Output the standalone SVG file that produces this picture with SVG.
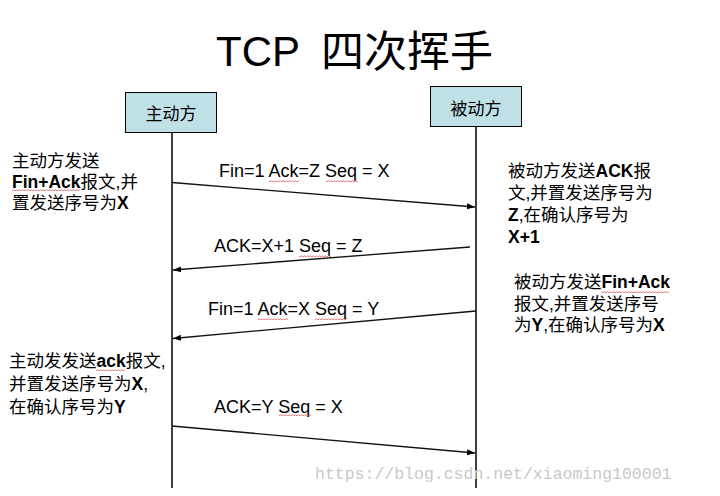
<svg xmlns="http://www.w3.org/2000/svg" width="720" height="496" viewBox="0 0 720 496">
  <defs>
    <style>
      .sans { font-family: 'Liberation Sans', 'Noto Sans CJK SC', sans-serif; fill: #000; }
      .lbl { font-size: 18px; }
      .note { font-size: 17.5px; }
      .b { font-weight: bold; }
      .box { fill: #bfe1e6; stroke: #000; stroke-width: 1; }
      .life { stroke: #000; stroke-width: 1.5; fill: none; }
      .msg { stroke: #111; stroke-width: 1.3; fill: none; marker-end: url(#arr); }
      .sq { fill: url(#sqp); }
    </style>
    <marker id="arr" markerUnits="userSpaceOnUse" markerWidth="9" markerHeight="7" refX="8" refY="3" orient="auto">
      <path d="M0,0 L8,3 L0,6 z" fill="#000"/>
    </marker>
    <pattern id="sqp" patternUnits="userSpaceOnUse" width="3" height="3">
      <path d="M0,2.2 L1.5,0.6 L3,2.2" stroke="#d85050" stroke-width="0.8" fill="none"/>
    </pattern>
  </defs>
  <rect width="720" height="496" fill="#fff"/>

  <g id="title">
    <text x="216" y="66" class="sans" font-size="42">TCP</text>
    <text x="321" y="67" class="sans" font-size="43">四次挥手</text>
  </g>

  <g id="active">
    <rect class="box" x="125.5" y="92.5" width="91" height="40"/>
    <text x="171" y="119.5" class="sans" font-size="17" text-anchor="middle">主动方</text>
  </g>
  <g id="passive">
    <rect class="box" x="430.5" y="86.5" width="91" height="40"/>
    <text x="476" y="114.5" class="sans" font-size="17" text-anchor="middle">被动方</text>
  </g>

  <g id="connectors">
    <line class="life" x1="172" y1="132.5" x2="172" y2="488"/>
    <line class="life" x1="476" y1="126.5" x2="476" y2="488"/>
    <path class="msg" d="M172,182.5 L475,207"/>
    <path class="msg" d="M470,247 L173,270"/>
    <path class="msg" d="M476,311 L173,338.5"/>
    <path class="msg" d="M172,426 L475,453"/>
  </g>

  <g id="msg-labels" class="sans lbl">
    <text x="219" y="177">Fin=1 Ack=Z Seq = X</text>
    <text x="214" y="252">ACK=X+1 Seq = Z</text>
    <text x="208" y="315">Fin=1 Ack=X Seq = Y</text>
    <text x="214" y="413">ACK=Y Seq = X</text>
    <rect class="sq" x="269" y="180" width="30" height="3"/>
    <rect class="sq" x="326" y="180" width="32" height="3"/>
    <rect class="sq" x="299" y="255" width="32" height="3"/>
    <rect class="sq" x="258" y="318" width="30" height="3"/>
    <rect class="sq" x="315" y="318" width="32" height="3"/>
    <rect class="sq" x="279" y="414" width="32" height="3"/>
  </g>

  <g id="note-active-1" class="sans note">
    <text x="12" y="166.5">主动方发送</text>
    <text x="12" y="187.5"><tspan class="b">Fin+Ack</tspan>报文,并</text>
    <text x="12" y="208.5">置发送序号为<tspan class="b">X</tspan></text>
    <rect class="sq" x="12" y="189" width="68" height="3"/>
  </g>

  <g id="note-passive-1" class="sans note">
    <text x="508" y="177">被动方发送<tspan class="b">ACK</tspan>报</text>
    <text x="508" y="199">文,并置发送序号为</text>
    <text x="508" y="221"><tspan class="b">Z</tspan>,在确认序号为</text>
    <text x="508" y="243" class="b">X+1</text>
  </g>

  <g id="note-passive-2" class="sans note">
    <text x="514" y="288">被动方发送<tspan class="b">Fin+Ack</tspan></text>
    <text x="514" y="309.5">报文,并置发送序号</text>
    <text x="514" y="331">为<tspan class="b">Y</tspan>,在确认序号为<tspan class="b">X</tspan></text>
    <rect class="sq" x="601" y="291" width="68" height="3"/>
  </g>

  <g id="note-active-2" class="sans note">
    <text x="9" y="367">主动发发送<tspan class="b">ack</tspan>报文,</text>
    <text x="9" y="390">并置发送序号为<tspan class="b">X</tspan>,</text>
    <text x="9" y="413">在确认序号为<tspan class="b">Y</tspan></text>
    <rect class="sq" x="96" y="369" width="29" height="3"/>
  </g>

  <g id="watermark">
    <text x="315" y="479" font-family="'Liberation Mono', monospace" font-size="16.5" fill="#c8c8c8">https://blog.csdn.net/xiaoming100001</text>
  </g>
</svg>
